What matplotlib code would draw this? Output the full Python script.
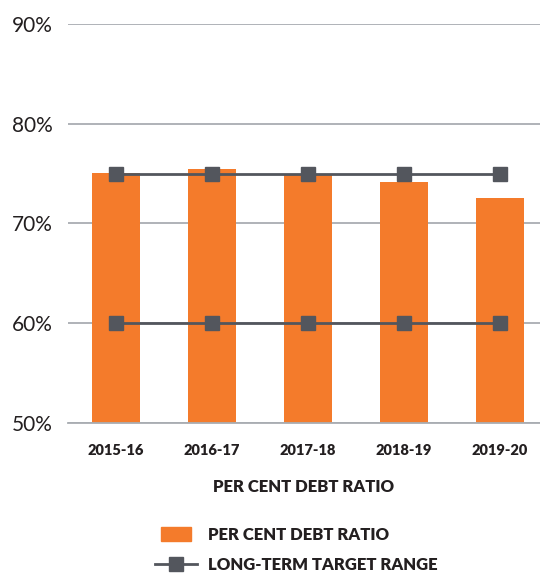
import matplotlib.pyplot as plt
from matplotlib.patches import Patch, Rectangle
from matplotlib.lines import Line2D
from matplotlib.legend_handler import HandlerPatch

years = ['2015-16', '2016-17', '2017-18', '2018-19', '2019-20']
debt_ratio = [75.1, 75.5, 74.9, 74.1, 72.5]
target_high = [75, 75, 75, 75, 75]
target_low = [60, 60, 60, 60, 60]
yticks = [50, 60, 70, 80, 90]

orange = '#f47b2b'
dark = '#53565d'
grid = '#a9adb2'
txt = '#231f20'

plt.rcParams['font.family'] = ['Lato', 'DejaVu Sans']

fig = plt.figure(figsize=(5.4, 5.73), dpi=100)
ax = fig.add_axes([68/540, 1 - 422.7/573, 472/540, 398.7/573])

x = range(len(years))
ax.bar(x, [v - 50 for v in debt_ratio], bottom=50, width=0.5, color=orange, zorder=2)
ax.plot(x, target_high, color=dark, lw=2, marker='s', ms=10.5, zorder=3)
ax.plot(x, target_low, color=dark, lw=2, marker='s', ms=10.5, zorder=3)

ax.set_ylim(50, 90)
ax.set_xlim(-0.5, 4.417)
ax.set_yticks(yticks)
ax.set_yticklabels([f'{t}%' for t in yticks], fontsize=15, color=txt)
ax.set_xticks(list(x))
ax.set_xticklabels(years, fontsize=10.5, fontweight='heavy', color=txt)
ax.tick_params(axis='y', length=0, pad=11)
ax.tick_params(axis='x', length=0, pad=15)
ax.yaxis.grid(True, color=grid, lw=1.3, zorder=0)
ax.set_axisbelow(True)
for s in ['top', 'right', 'left']:
    ax.spines[s].set_visible(False)
ax.spines['bottom'].set_color(grid)
ax.spines['bottom'].set_linewidth(1.3)
ax.spines['bottom'].set_zorder(4)
ax.set_xlabel('PER CENT DEBT RATIO', fontsize=12, fontweight='heavy', color=txt, labelpad=16)


def small_patch(legend, orig_handle, xdescent, ydescent, width, height, fontsize):
    w = width * 0.72
    return Rectangle((-xdescent + (width - w) / 2, -ydescent - 1), w, height + 2)


handles = [Patch(color=orange),
           Line2D([], [], color=dark, lw=2, marker='s', ms=10.5)]
leg = fig.legend(handles, ['PER CENT DEBT RATIO', 'LONG-TERM TARGET RANGE'],
                 loc='upper left', bbox_to_anchor=(140/540, 1 - 512/573),
                 frameon=False, handlelength=2.5, handletextpad=0.65,
                 labelspacing=0.85, prop={'size': 12, 'weight': 'heavy'},
                 handler_map={Patch: HandlerPatch(patch_func=small_patch)})
for t in leg.get_texts():
    t.set_color(txt)

fig.savefig('out.png', dpi=100)
